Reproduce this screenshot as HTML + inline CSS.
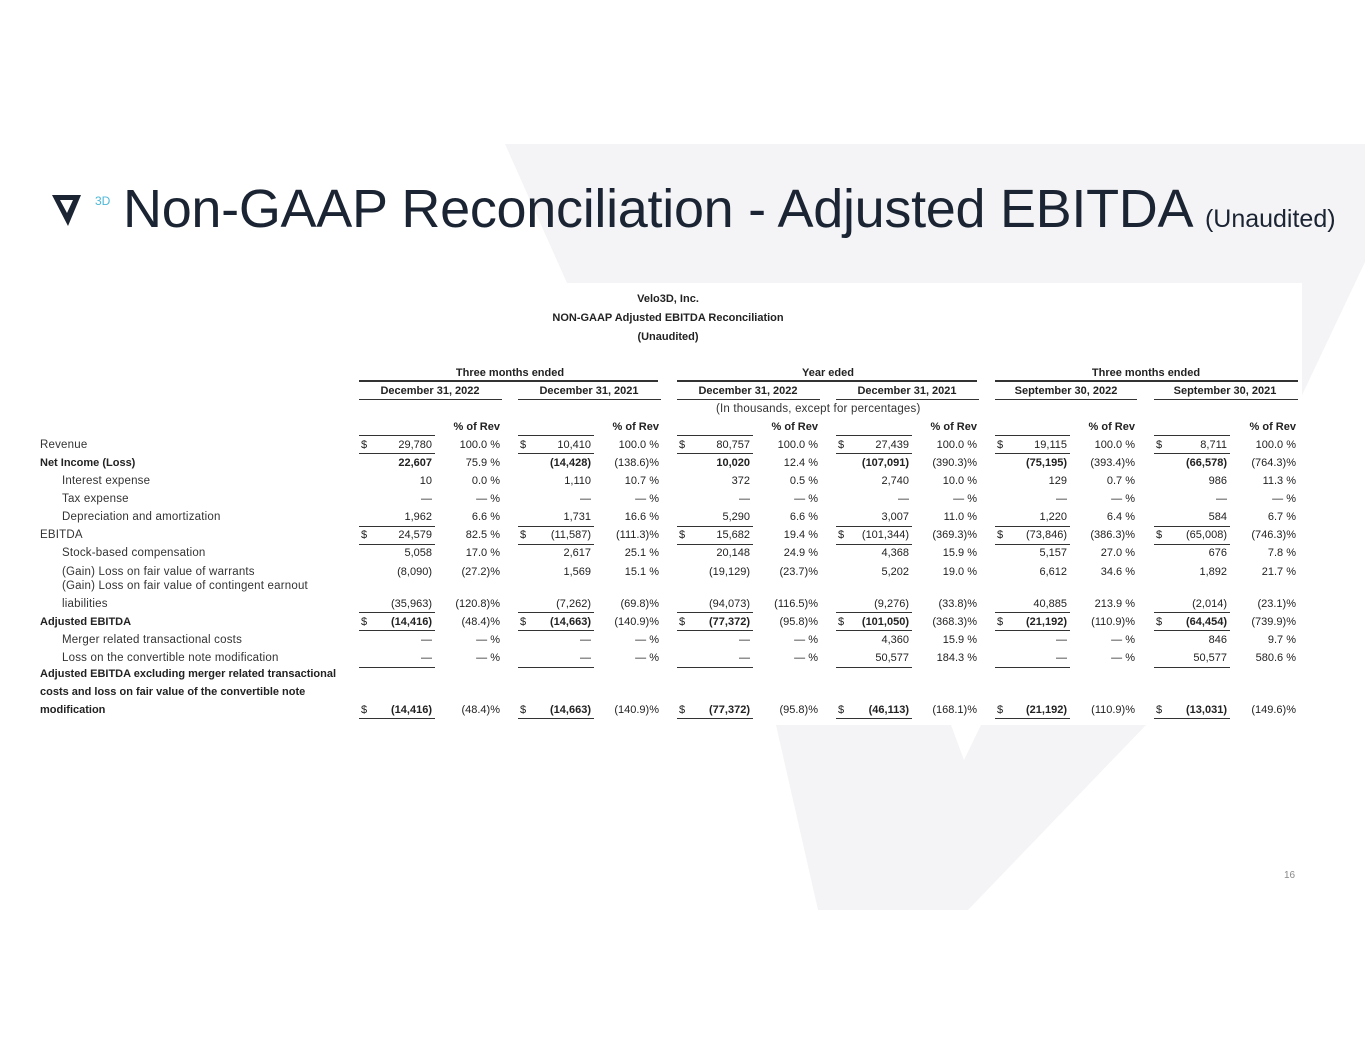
<!DOCTYPE html>
<html><head><meta charset="utf-8"><style>
body{margin:0;width:1365px;height:1055px;position:relative;background:#fff;overflow:hidden;font-family:"Liberation Sans",sans-serif;}
.a{position:absolute;white-space:nowrap;font-size:11px;line-height:14px;color:#222;}
.c{position:absolute;white-space:nowrap;font-size:11px;line-height:14px;color:#222;transform:translateX(-50%);}
.b{font-weight:bold;}
.ln{position:absolute;height:1px;background:#333;}
.lb{position:absolute;font-size:11.5px;line-height:14px;color:#333;white-space:nowrap;letter-spacing:0.2px;}
</style></head><body>
<svg width="1365" height="1055" style="position:absolute;left:0;top:0">
<polygon points="505,144 1365,144 1365,262 1146,725 968,910 818,910 776,725 567,283" fill="#f4f4f6"/>
<rect x="30" y="283" width="1272" height="442" fill="#fff"/>
<polygon points="951,725 981,725 964,760" fill="#fff"/>
<polygon points="52,195 81,195 68,226" fill="#1b2433"/>
<polygon points="60,200 73,200 67,213" fill="#fff"/>
</svg>
<div class="a" style="left:95px;top:194px;font-size:12px;color:#4cb8d8;">3D</div>
<div class="a" style="left:123px;top:178px;font-size:54px;line-height:62px;color:#1b2433;letter-spacing:-0.3px;">Non-GAAP Reconciliation - Adjusted EBITDA <span style="font-size:25px;letter-spacing:0">(Unaudited)</span></div>
<div class="a" style="top:869px;font-size:10px;color:#888;left:1284px;">16</div>
<div id="t"></div>
<script>
var t=document.getElementById('t'),h='';
function A(x,y,s,cls){h+='<div class="a '+(cls||'')+'" style="left:'+x+'px;top:'+(y-7)+'px">'+s+'</div>';}
function R(x,y,s,cls){h+='<div class="a '+(cls||'')+'" style="right:'+(1365-x)+'px;top:'+(y-7)+'px">'+s+'</div>';}
function C(x,y,s,cls){h+='<div class="c '+(cls||'')+'" style="left:'+x+'px;top:'+(y-7)+'px">'+s+'</div>';}
function L(x1,x2,y,w){h+='<div class="ln" style="left:'+x1+'px;width:'+(x2-x1)+'px;top:'+y+'px;height:'+(w||1)+'px"></div>';}
function LB(x,y,s,b){h+='<div class="lb'+(b?' b':'')+'" style="left:'+x+'px;top:'+(y-7)+'px;'+(b?'font-size:11px;color:#222;letter-spacing:0':'')+'">'+s+'</div>';}
C(668,299,'Velo3D, Inc.','b');C(668,318,'NON-GAAP Adjusted EBITDA Reconciliation','b');C(668,337,'(Unaudited)','b');
C(510,373,'Three months ended','b');C(828,373,'Year eded','b');C(1146,373,'Three months ended','b');
L(359,658,380,2);L(677,977,380,2);L(995,1298,380,2);
var S=[360,519,678,837,996,1155],V=[432,591,750,909,1067,1227],P=[500,659,818,977,1135,1296];
var D=['December 31, 2022','December 31, 2021','December 31, 2022','December 31, 2021','September 30, 2022','September 30, 2021'];
for(var i=0;i<6;i++){C(S[i]+70,391,D[i],'b');L(S[i]-1,P[i]+2,399);R(P[i],427,'% of Rev','b');}
h+='<div class="lb" style="left:716px;top:402px">(In thousands, except for percentages)</div>';
var rows=[
[445,'Revenue',0,1,'',['29,780','100.0 %','10,410','100.0 %','80,757','100.0 %','27,439','100.0 %','19,115','100.0 %','8,711','100.0 %']],
[463,'Net Income (Loss)',1,0,'b',['22,607','75.9 %','(14,428)','(138.6)%','10,020','12.4 %','(107,091)','(390.3)%','(75,195)','(393.4)%','(66,578)','(764.3)%']],
[481,'Interest expense',0,0,'',['10','0.0 %','1,110','10.7 %','372','0.5 %','2,740','10.0 %','129','0.7 %','986','11.3 %']],
[499,'Tax expense',0,0,'',['—','— %','—','— %','—','— %','—','— %','—','— %','—','— %']],
[517,'Depreciation and amortization',0,0,'',['1,962','6.6 %','1,731','16.6 %','5,290','6.6 %','3,007','11.0 %','1,220','6.4 %','584','6.7 %']],
[535,'EBITDA',0,1,'',['24,579','82.5 %','(11,587)','(111.3)%','15,682','19.4 %','(101,344)','(369.3)%','(73,846)','(386.3)%','(65,008)','(746.3)%']],
[553,'Stock-based compensation',0,0,'',['5,058','17.0 %','2,617','25.1 %','20,148','24.9 %','4,368','15.9 %','5,157','27.0 %','676','7.8 %']],
[572,'(Gain) Loss on fair value of warrants',0,0,'',['(8,090)','(27.2)%','1,569','15.1 %','(19,129)','(23.7)%','5,202','19.0 %','6,612','34.6 %','1,892','21.7 %']],
[604,'liabilities',0,0,'',['(35,963)','(120.8)%','(7,262)','(69.8)%','(94,073)','(116.5)%','(9,276)','(33.8)%','40,885','213.9 %','(2,014)','(23.1)%']],
[622,'Adjusted EBITDA',1,1,'b',['(14,416)','(48.4)%','(14,663)','(140.9)%','(77,372)','(95.8)%','(101,050)','(368.3)%','(21,192)','(110.9)%','(64,454)','(739.9)%']],
[640,'Merger related transactional costs',0,0,'',['—','— %','—','— %','—','— %','4,360','15.9 %','—','— %','846','9.7 %']],
[658,'Loss on the convertible note modification',0,0,'',['—','— %','—','— %','—','— %','50,577','184.3 %','—','— %','50,577','580.6 %']],
[710,'modification',1,1,'b',['(14,416)','(48.4)%','(14,663)','(140.9)%','(77,372)','(95.8)%','(46,113)','(168.1)%','(21,192)','(110.9)%','(13,031)','(149.6)%']]
];
rows.forEach(function(r){
 var y=r[0],ind=(r[2]||['Revenue','EBITDA'].indexOf(r[1])>=0)?40:62;
 LB(ind,y,r[1],r[2]);
 for(var i=0;i<6;i++){ if(r[3])A(S[i]+1,y,'$');R(V[i],y,r[5][i*2],r[4]);R(P[i],y,r[5][i*2+1]);}
});
LB(62,586,'(Gain) Loss on fair value of contingent earnout');
LB(40,674,'Adjusted EBITDA excluding merger related transactional',1);
LB(40,692,'costs and loss on fair value of the convertible note',1);
[435,453,526,544,612,630,667,718].forEach(function(y){for(var i=0;i<6;i++)L(S[i]-1,V[i]+3,y);});
t.innerHTML=h;
</script>
</body></html>
